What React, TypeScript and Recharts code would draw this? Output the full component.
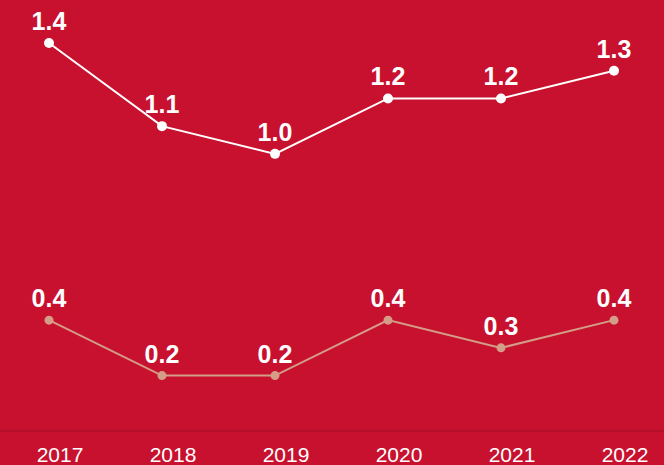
import React from 'react';
import { LineChart, Line, XAxis, YAxis, LabelList } from 'recharts';

const years = ['2017', '2018', '2019', '2020', '2021', '2022'];
const upperValues = [1.4, 1.1, 1.0, 1.2, 1.2, 1.3];
const lowerValues = [0.4, 0.2, 0.2, 0.4, 0.3, 0.4];

const data = years.map((year, i) => ({
  year,
  upper: upperValues[i],
  lower: lowerValues[i],
}));

const BG = '#C8112E';
const labelFont = '"Liberation Sans Narrow", "Liberation Sans", Arial, sans-serif';

const fmt = (v: any) => Number(v).toFixed(1);

const App: React.FC = () => {
  return (
    <div style={{ position: 'absolute', top: 0, left: 0, width: 664, height: 465, background: BG }}>
      <LineChart width={664} height={465} data={data} margin={{ top: 43, right: 0, left: 0, bottom: 0 }}>
        <XAxis
          dataKey="year"
          height={34}
          padding={{ left: 49, right: 50 }}
          axisLine={{ stroke: '#A30E28', strokeWidth: 1 }}
          tickLine={false}
          tickSize={6}
          tickMargin={10}
          tick={{ fill: '#FFFFFF', fontSize: 21, fontFamily: '"Liberation Sans", Arial, sans-serif', dx: 11 }}
        />
        <YAxis hide domain={[0, 1.4]} />
        <Line
          dataKey="upper"
          stroke="#FFFFFF"
          strokeWidth={2}
          dot={{ r: 5, fill: '#FFFFFF', stroke: 'none' }}
          isAnimationActive={false}
        >
          <LabelList
            dataKey="upper"
            position="top"
            offset={13}
            formatter={fmt}
            style={{ fill: '#FFFFFF', fontSize: 25, fontWeight: 'bold', fontFamily: labelFont }}
          />
        </Line>
        <Line
          dataKey="lower"
          stroke="#D39D87"
          strokeWidth={2}
          dot={{ r: 4.5, fill: '#D39D87', stroke: 'none' }}
          isAnimationActive={false}
        >
          <LabelList
            dataKey="lower"
            position="top"
            offset={13}
            formatter={fmt}
            style={{ fill: '#FFFFFF', fontSize: 25, fontWeight: 'bold', fontFamily: labelFont }}
          />
        </Line>
      </LineChart>
    </div>
  );
};

export default App;
